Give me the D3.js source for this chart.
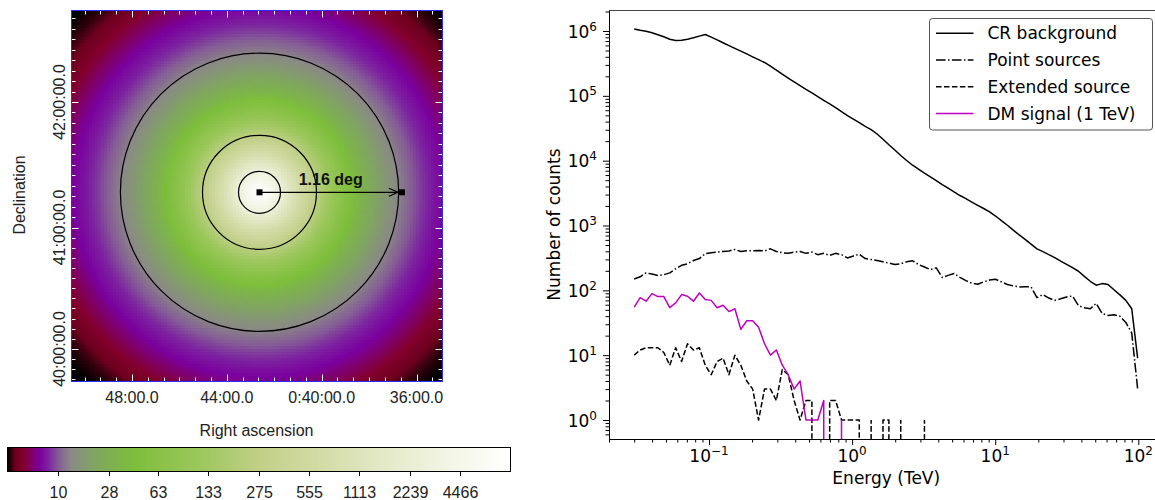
<!DOCTYPE html>
<html>
<head>
<meta charset="utf-8">
<script src="https://cdn.jsdelivr.net/npm/d3@7"></script>
<style>
  body { margin: 0; background: #fff; }
  svg { display: block; }
</style>
</head>
<body>
<svg id="fig" width="1155" height="500"></svg>
<script>
// ---------------- Counts spectrum (right panel) ----------------
const energyTeV = [
  0.0300, 0.0330, 0.0363, 0.03993, 0.04392, 0.04832, 0.05315, 0.05846, 0.06431, 0.07074,
  0.07781, 0.08559, 0.09415, 0.1036, 0.1139, 0.1253, 0.1378, 0.1516, 0.1668, 0.1835,
  0.2018, 0.2220, 0.2442, 0.2686, 0.2955, 0.3250, 0.3575, 0.3933, 0.4326, 0.4759,
  0.5235, 0.5758, 0.6334, 0.6967, 0.7664, 0.8430, 0.9273, 1.020, 1.122, 1.234,
  1.358, 1.494, 1.643, 1.807, 1.988, 2.187, 2.405, 2.646, 2.910, 3.201,
  3.521, 3.874, 4.261, 4.687, 5.156, 5.671, 6.238, 6.862, 7.548, 8.303,
  9.133, 10.05, 11.05, 12.16, 13.37, 14.71, 16.18, 17.80, 19.58, 21.54,
  23.69, 26.06, 28.67, 31.53, 34.69, 38.15, 41.97, 46.17, 50.78, 55.86,
  61.45, 67.59, 74.35, 81.79, 89.97, 98.96
];
const crBackground = [
  1070000, 1028000, 993000, 938000, 877000, 817000, 746000, 714000, 721000, 745000,
  785000, 834000, 883000, 804000, 728000, 658000, 596000, 540000, 490000, 443000,
  400000, 361000, 327000, 287000, 249000, 216000, 188000, 164000, 144000, 126000,
  111000, 97300, 85300, 75000, 65800, 56900, 49500, 43800, 38500, 33900,
  30200, 25800, 21400, 17600, 14600, 12000, 10050, 8510, 7410, 6430,
  5620, 4930, 4280, 3760, 3300, 2900, 2590, 2300, 2050, 1830,
  1620, 1400, 1190, 1010, 847, 716, 611, 515, 437, 395,
  356, 320, 283, 252, 224, 197, 164, 138, 120, 127,
  123, 102, 85, 70, 52, 9
];
const pointSources = [
  150, 162, 186, 178, 170, 174, 186, 214, 243, 257,
  288, 309, 368, 380, 389, 398, 405, 427, 398, 407,
  407, 410, 405, 437, 398, 380, 372, 389, 398, 372,
  389, 355, 372, 347, 372, 355, 316, 339, 361, 309,
  299, 288, 275, 263, 251, 257, 275, 285, 251, 229,
  209, 222, 158, 170, 182, 158, 141, 129, 124, 135,
  144, 148, 135, 123, 117, 113, 114, 113, 77, 86,
  76, 70, 74, 79, 82, 58, 54, 52, 63, 44,
  41, 42, 40, 32, 22, 3
];
const extendedSource = [
  10, 12, 13, 13, 13, 11, 7, 13, 8, 15,
  12, 13, 7, 5, 8, 9, 5, 10, 7, 4,
  3, 1, 3, 3, 2, 6, 5, 2, 1, 2,
  2, 0, 0, 2, 2, 1, 1, 1, 1, 0,
  1, 0, 1, 1, 0, 1, 0, 0, 0, 1,
  0, 0, 0, 0, 0, 0, 0, 0, 0, 0,
  0, 0, 0, 0, 0, 0, 0, 0, 0, 0,
  0, 0, 0, 0, 0, 0, 0, 0, 0, 0,
  0, 0, 0, 0, 0, 0
];
const dmSignal = [
  55, 77, 68, 89, 80, 80, 54, 64, 86, 81,
  68, 91, 72, 70, 54, 59, 47, 52, 25, 34,
  34, 27, 15, 10, 12, 7, 5, 3, 4, 1,
  1, 1, 2, 0, 0, 1, 0, 0, 0, 0,
  0, 0, 0, 0, 0, 0, 0, 0, 0, 0,
  0, 0, 0, 0, 0, 0, 0, 0, 0, 0,
  0, 0, 0, 0, 0, 0, 0, 0, 0, 0,
  0, 0, 0, 0, 0, 0, 0, 0, 0, 0,
  0, 0, 0, 0, 0, 0
];
const seriesLabels = ["CR background", "Point sources", "Extended source", "DM signal (1 TeV)"];
const xTickExponents = [-1, 0, 1, 2];
const yTickExponents = [0, 1, 2, 3, 4, 5, 6];

// ---------------- Sky map (left panel) ----------------
// radial profile of the map around the target centre: offset (deg) -> value
const profileRadiusDeg = [0, 0.081, 0.163, 0.244, 0.326, 0.464, 0.570, 0.692, 0.814, 0.977,
                          1.132, 1.303, 1.507, 1.629, 1.751, 1.873, 1.954, 2.077, 2.40];
const profileValue = [8930, 5498, 2752, 1283, 639, 238, 115, 58.2, 32.9, 19.0,
                      12.5, 8.7, 5.78, 4.34, 2.90, 1.84, 1.38, 1.0, 1.0];
const colorbarTicks = [10, 28, 63, 133, 275, 555, 1113, 2239, 4466];
const raTickMinutes = [48, 44, 40, 36];
const raTickLabels = ["48:00.0", "44:00.0", "0:40:00.0", "36:00.0"];
const decTickDeg = [42, 41, 40];
const decTickLabels = ["42:00:00.0", "41:00:00.0", "40:00:00.0"];
const circleRadiiDeg = [0.171, 0.464, 1.133];
const arrowLengthDeg = 1.16;

const svg = d3.select("#fig");

// ======================= left panel =======================
const dsFont = "'Liberation Sans', Arial, Helvetica, sans-serif";
const dsSize = 16;
const imgLeft = 71.5, imgTop = 10.5, imgSize = 371, nPix = 124;
const cell = imgSize / nPix;
const pxPerDeg = 122.8;
const cx = 259.5, cy = 192.3;

// log stretch (a = 1000) between the map minimum and maximum
const vMin = 1, vMax = 8931;
const stretchLog = d3.scaleLog().domain([1, 1001]).range([0, 1]).clamp(true);
const stretch = v => stretchLog(1 + 1000 * Math.max(0, v - vMin) / (vMax - vMin));

const cmap = d3.scaleLinear()
  .domain([0, 0.006, 0.014, 0.03, 0.045, 0.062, 0.08, 0.10, 0.125, 0.17, 0.25, 0.38, 0.5, 0.62, 0.78, 0.9, 1])
  .range(['#000000', '#30000c', '#6c001e', '#82002c', '#80005e', '#7a009e', '#7c22a0', '#845c96', '#8a8a84', '#80a462',
          '#7dbe3b', '#9cc75c', '#c1cf88', '#d3dba6', '#e8ecd0', '#f5f7ea', '#ffffff'])
  .interpolate(d3.interpolateRgb)
  .clamp(true);

const radialLog = d3.scaleLinear().domain(profileRadiusDeg).range(profileValue.map(Math.log10)).clamp(true);

const sky = svg.append("g");
const cells = d3.cross(d3.range(nPix), d3.range(nPix));
sky.append("g")
  .selectAll("rect").data(cells).join("rect")
  .attr("x", d => imgLeft + d[0] * cell)
  .attr("y", d => imgTop + d[1] * cell)
  .attr("width", cell + 0.6)
  .attr("height", cell + 0.6)
  .attr("shape-rendering", "crispEdges")
  .attr("fill", d => {
    const px = imgLeft + (d[0] + 0.5) * cell;
    const py = imgTop + (d[1] + 0.5) * cell;
    const r = Math.hypot(px - cx, py - cy) / pxPerDeg;
    return cmap(stretch(Math.pow(10, radialLog(r))));
  });

// coordinate ticks along the image edges
const raX = d3.scaleLinear().domain([48, 36]).range([132, 416.5]);
const decY = d3.scaleLinear().domain([40, 41, 42]).range([349, 227.5, 102]);
const raMinor = d3.range(52, 32, -2 / 3).filter(m => raX(m) > imgLeft + 2 && raX(m) < imgLeft + imgSize - 2);
const decMinor = d3.range(39.5, 43, 1 / 12).filter(d => decY(d) > imgTop + 2 && decY(d) < imgTop + imgSize - 2);
const isMajor = (v, list) => list.some(t => Math.abs(t - v) < 1e-6);
const tickG = sky.append("g").attr("stroke", "#fff").attr("stroke-width", 1);
raMinor.forEach(m => {
  const len = isMajor(m, raTickMinutes) ? 7 : 4;
  const x = Math.round(raX(m)) + 0.5;
  tickG.append("line").attr("x1", x).attr("x2", x).attr("y1", imgTop).attr("y2", imgTop + len);
  tickG.append("line").attr("x1", x).attr("x2", x).attr("y1", imgTop + imgSize).attr("y2", imgTop + imgSize - len);
});
decMinor.forEach(dv => {
  const len = isMajor(dv, decTickDeg) ? 7 : 4;
  const y = Math.round(decY(dv)) + 0.5;
  tickG.append("line").attr("y1", y).attr("y2", y).attr("x1", imgLeft).attr("x2", imgLeft + len);
  tickG.append("line").attr("y1", y).attr("y2", y).attr("x1", imgLeft + imgSize).attr("x2", imgLeft + imgSize - len);
});

// image frame
sky.append("rect")
  .attr("x", imgLeft).attr("y", imgTop).attr("width", imgSize).attr("height", imgSize)
  .attr("fill", "none").attr("stroke", "#2a2aff").attr("stroke-width", 1);

// region circles around the target
const degToPx = d3.scaleLinear().domain([0, 1]).range([0, pxPerDeg]);
sky.append("g").selectAll("circle").data(circleRadiiDeg).join("circle")
  .attr("cx", cx).attr("cy", cy).attr("r", d => degToPx(d))
  .attr("fill", "none").attr("stroke", "#000").attr("stroke-width", 1.2);

// radius arrow
const arrowEnd = cx + degToPx(arrowLengthDeg);
sky.append("line").attr("x1", cx).attr("y1", cy).attr("x2", arrowEnd).attr("y2", cy)
  .attr("stroke", "#000").attr("stroke-width", 1.2);
sky.append("path")
  .attr("d", `M${arrowEnd - 13},${cy - 4}L${arrowEnd - 4},${cy}L${arrowEnd - 13},${cy + 4}`)
  .attr("fill", "none").attr("stroke", "#000").attr("stroke-width", 1.2);
[cx, arrowEnd].forEach(x => {
  sky.append("rect").attr("x", x - 3).attr("y", cy - 3).attr("width", 6).attr("height", 6).attr("fill", "#000");
});
sky.append("text")
  .attr("x", (cx + arrowEnd) / 2).attr("y", 184.5)
  .attr("text-anchor", "middle")
  .attr("font-family", dsFont).attr("font-weight", "bold").attr("font-size", 16)
  .attr("fill", "#111")
  .text(arrowLengthDeg.toFixed(2) + " deg");

// axis labels of the map
const labG = sky.append("g").attr("font-family", dsFont).attr("font-size", dsSize).attr("fill", "#222");
raTickMinutes.forEach((m, i) => {
  labG.append("text").attr("x", raX(m)).attr("y", 403).attr("text-anchor", "middle").text(raTickLabels[i]);
});
decTickDeg.forEach((dv, i) => {
  labG.append("text").attr("transform", `translate(65,${decY(dv)}) rotate(-90)`)
    .attr("text-anchor", "middle").text(decTickLabels[i]);
});
labG.append("text").attr("x", 256.5).attr("y", 436).attr("text-anchor", "middle").text("Right ascension");
labG.append("text").attr("transform", "translate(25,195) rotate(-90)").attr("text-anchor", "middle").text("Declination");

// colour bar
const barX0 = 7.5, barX1 = 510.5, barY = 447.5, barH = 24;
const barScale = d3.scaleLinear().domain([0, 1]).range([barX0, barX1]);
const nSteps = Math.round(barX1 - barX0);
const cbar = svg.append("g");
cbar.append("g").selectAll("rect").data(d3.range(nSteps)).join("rect")
  .attr("x", i => barScale(i / nSteps)).attr("y", barY)
  .attr("width", (barX1 - barX0) / nSteps + 0.6).attr("height", barH)
  .attr("fill", i => cmap((i + 0.5) / nSteps))
  .attr("shape-rendering", "crispEdges");
cbar.append("rect").attr("x", barX0).attr("y", barY).attr("width", barX1 - barX0).attr("height", barH)
  .attr("fill", "none").attr("stroke", "#000").attr("stroke-width", 1);
colorbarTicks.forEach(v => {
  const x = Math.round(barScale(stretch(v))) + 0.5;
  cbar.append("line").attr("x1", x).attr("x2", x).attr("y1", barY + barH).attr("y2", barY + barH + 4.5)
    .attr("stroke", "#000").attr("stroke-width", 1);
  cbar.append("text").attr("x", x).attr("y", 498).attr("text-anchor", "middle")
    .attr("font-family", dsFont).attr("font-size", dsSize).attr("fill", "#222").text(v);
});

// ======================= right panel =======================
const mplFont = "'DejaVu Sans', sans-serif";
const ax = { left: 609, right: 1163.5, top: 10, bottom: 439 };
const x = d3.scaleLog().domain([Math.pow(10, -1.699), Math.pow(10, 2.176)]).range([ax.left, ax.right]);
const y = d3.scaleLog().domain([Math.pow(10, -0.293), Math.pow(10, 6.324)]).range([ax.bottom, ax.top]);

const plot = svg.append("g");
plot.append("defs").append("clipPath").attr("id", "axclip")
  .append("rect").attr("x", ax.left).attr("y", ax.top).attr("width", ax.right - ax.left).attr("height", ax.bottom - ax.top);

const series = [
  { values: crBackground, color: "#000", dash: null },
  { values: pointSources, color: "#000", dash: "9.6,2.4,1.5,2.4" },
  { values: extendedSource, color: "#000", dash: "5.55,2.4" },
  { values: dmSignal, color: "#bf00bf", dash: null }
];

// Empty bins fall off the bottom of the log axis: the line drops vertically
// from the last non-empty bin, and an isolated non-empty bin is a single stroke.
const FLOOR = 1e-3;
function toPoints(vals) {
  const pts = [];
  vals.forEach((v, i) => {
    if (v > 0) { pts.push({ e: energyTeV[i], c: v }); return; }
    const prevSpike = i >= 2 && vals[i - 2] === 0;
    if (i > 0 && vals[i - 1] > 0 && !prevSpike) pts.push({ e: energyTeV[i - 1], c: FLOOR });
    pts.push(null);
    if (i < vals.length - 1 && vals[i + 1] > 0) pts.push({ e: energyTeV[i + 1], c: FLOOR });
  });
  return pts;
}
const line = d3.line()
  .defined(d => d !== null)
  .x(d => x(d.e))
  .y(d => y(d.c));

const lines = plot.append("g").attr("clip-path", "url(#axclip)");
series.forEach(s => {
  lines.append("path")
    .attr("d", line(toPoints(s.values)))
    .attr("fill", "none").attr("stroke", s.color).attr("stroke-width", 1.5)
    .attr("stroke-linejoin", "round")
    .attr("stroke-dasharray", s.dash);
});

// ticks
const xMajor = xTickExponents.map(e => Math.pow(10, e));
const xMinor = [];
d3.range(-2, 3).forEach(k => d3.range(2, 10).forEach(m => {
  const v = m * Math.pow(10, k);
  if (v >= x.domain()[0] && v <= x.domain()[1]) xMinor.push(v);
}));
const yMajor = yTickExponents.map(e => Math.pow(10, e));
const yMinor = [];
d3.range(-1, 7).forEach(k => d3.range(2, 10).forEach(m => {
  const v = m * Math.pow(10, k);
  if (v >= y.domain()[0] && v <= y.domain()[1]) yMinor.push(v);
}));

function styleAxis(g) {
  g.select(".domain").remove();
  g.selectAll(".tick line").attr("stroke", "#000").attr("stroke-width", 1);
}
plot.append("g").attr("transform", `translate(0,${ax.bottom})`)
  .call(d3.axisBottom(x).tickValues(xMinor).tickSize(3.5).tickFormat("")).call(styleAxis);
plot.append("g").attr("transform", `translate(0,${ax.bottom})`)
  .call(d3.axisBottom(x).tickValues(xMajor).tickSize(6).tickFormat("")).call(styleAxis);
plot.append("g").attr("transform", `translate(${ax.left},0)`)
  .call(d3.axisLeft(y).tickValues(yMinor).tickSize(3.5).tickFormat("")).call(styleAxis);
plot.append("g").attr("transform", `translate(${ax.left},0)`)
  .call(d3.axisLeft(y).tickValues(yMajor).tickSize(6).tickFormat("")).call(styleAxis);

const sup = e => (e < 0 ? "\u2212" : "") + Math.abs(e);
xTickExponents.forEach(e => {
  const t = plot.append("text").attr("x", x(Math.pow(10, e))).attr("y", 462)
    .attr("text-anchor", "middle").attr("font-family", mplFont).attr("font-size", 17).attr("fill", "#000");
  t.append("tspan").text("10");
  t.append("tspan").attr("dy", -7).attr("font-size", 12).text(sup(e));
});
yTickExponents.forEach(e => {
  const t = plot.append("text").attr("x", 597).attr("y", y(Math.pow(10, e)) + 6.5)
    .attr("text-anchor", "end").attr("font-family", mplFont).attr("font-size", 17).attr("fill", "#000");
  t.append("tspan").text("10");
  t.append("tspan").attr("dy", -7).attr("font-size", 12).text(sup(e));
});

// spines
plot.append("line").attr("x1", ax.left + 0.5).attr("x2", ax.left + 0.5).attr("y1", ax.top).attr("y2", ax.bottom + 0.5)
  .attr("stroke", "#000").attr("stroke-width", 1);
plot.append("line").attr("x1", ax.left).attr("x2", ax.right).attr("y1", ax.bottom + 0.5).attr("y2", ax.bottom + 0.5)
  .attr("stroke", "#000").attr("stroke-width", 1);
plot.append("line").attr("x1", ax.left).attr("x2", ax.right).attr("y1", ax.top + 0.5).attr("y2", ax.top + 0.5)
  .attr("stroke", "#444").attr("stroke-width", 1);

// axis titles
plot.append("text").attr("x", (ax.left + ax.right) / 2).attr("y", 484).attr("text-anchor", "middle")
  .attr("font-family", mplFont).attr("font-size", 17).attr("fill", "#000").text("Energy (TeV)");
plot.append("text").attr("transform", `translate(560,${(ax.top + ax.bottom) / 2}) rotate(-90)`)
  .attr("text-anchor", "middle").attr("font-family", mplFont).attr("font-size", 17).attr("fill", "#000")
  .text("Number of counts");

// legend
const leg = plot.append("g");
leg.append("rect").attr("x", 929.5).attr("y", 18.5).attr("width", 223).attr("height", 111.5)
  .attr("rx", 3).attr("fill", "#fff").attr("fill-opacity", 0.85)
  .attr("stroke", "#555").attr("stroke-width", 1);
seriesLabels.forEach((lab, i) => {
  const ry = 33.3 + i * 26.7;
  leg.append("line").attr("x1", 936).attr("x2", 973.5).attr("y1", ry).attr("y2", ry)
    .attr("stroke", series[i].color).attr("stroke-width", 1.5).attr("stroke-dasharray", series[i].dash);
  leg.append("text").attr("x", 987.5).attr("y", ry).attr("dy", "0.36em")
    .attr("font-family", mplFont).attr("font-size", 17).attr("fill", "#000").text(lab);
});
</script>
</body>
</html>
